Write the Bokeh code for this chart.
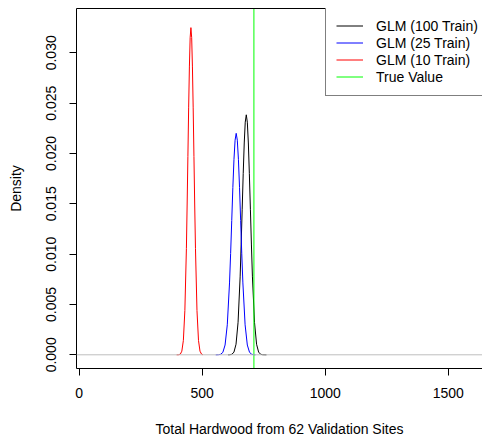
from bokeh.plotting import figure
from bokeh.models import Range1d, FixedTicker, PrintfTickFormatter, Span, Legend, LegendItem, LinearAxis
from bokeh.embed import file_html
from bokeh.resources import INLINE

# Density curves
red_x = [396, 404.8, 411.0, 417.1, 423.3, 429.4, 435.6, 438.6, 441.7, 444.8, 447.9, 450.9, 454.0,
         457.1, 460.1, 463.2, 466.3, 469.4, 472.5, 478.6, 484.8, 490.9, 497.1, 503]
red_y = [0.0, 0.00001, 0.00007, 0.00036, 0.00143, 0.0044, 0.01055, 0.01488, 0.0197, 0.02453, 0.02868, 0.0315, 0.0325,
         0.0315, 0.02868, 0.02453, 0.0197, 0.01488, 0.01055, 0.0044, 0.00143, 0.00036, 0.00007, 0.0]

blue_x = [555, 565.6, 574.7, 583.7, 592.8, 601.8, 610.9, 615.4, 619.9, 624.4, 629.0, 633.5, 638.0,
          642.5, 647.0, 651.6, 656.1, 660.6, 665.2, 674.2, 683.2, 692.3, 701.3, 710.4, 716]
blue_y = [0.0, 0.00001, 0.00005, 0.00024, 0.00097, 0.00298, 0.00714, 0.01007, 0.01334, 0.01661, 0.01942, 0.02132, 0.0220,
          0.02132, 0.01942, 0.01661, 0.01334, 0.01007, 0.00714, 0.00298, 0.00097, 0.00024, 0.00005, 0.00001, 0.0]

black_x = [605, 612.2, 620.5, 628.9, 637.3, 645.6, 654.0, 658.1, 662.3, 666.5, 670.7, 674.8, 679.0,
           683.2, 687.4, 691.5, 695.7, 699.9, 704.0, 712.4, 720.8, 729.1, 737.5, 745.8, 761]
black_y = [0.0, 0.00001, 0.00005, 0.00027, 0.00105, 0.00323, 0.00774, 0.01091, 0.01446, 0.01799, 0.02104, 0.02311, 0.02384,
           0.02311, 0.02104, 0.01799, 0.01446, 0.01091, 0.00774, 0.00323, 0.00105, 0.00027, 0.00005, 0.00001, 0.0]

true_value = 710

x_ticks = [0, 500, 1000, 1500]
y_ticks = [0.0, 0.005, 0.010, 0.015, 0.020, 0.025, 0.030]
labels = ["GLM (100 Train)", "GLM (25 Train)", "GLM (10 Train)", "True Value"]

FONT = "Liberation Sans"
X0, X1 = -11, 1639
Y0, Y1 = -0.00136, 0.0344

p = figure(width=482, height=442, output_backend="svg", toolbar_location=None,
           x_range=Range1d(X0, X1), y_range=Range1d(Y0, Y1),
           min_border_left=76, min_border_right=0, min_border_top=8, min_border_bottom=74)
p.outline_line_color = None
p.grid.visible = False
p.background_fill_color = "white"
p.border_fill_color = "white"

for ax in (p.xaxis[0], p.yaxis[0]):
    ax.axis_line_color = "black"
    ax.axis_line_width = 1
    ax.major_tick_line_color = "black"
    ax.major_tick_out = 7
    ax.major_tick_in = 0
    ax.minor_tick_line_color = None
    ax.major_label_text_font = FONT
    ax.major_label_text_font_size = "14px"
    ax.major_label_text_color = "black"
    ax.axis_label_text_font = FONT
    ax.axis_label_text_font_size = "14px"
    ax.axis_label_text_font_style = "normal"
    ax.axis_label_text_color = "black"

p.xaxis[0].ticker = FixedTicker(ticks=x_ticks)
p.yaxis[0].ticker = FixedTicker(ticks=y_ticks)
p.yaxis[0].formatter = PrintfTickFormatter(format="%.3f")
p.yaxis[0].major_label_orientation = "vertical"
p.xaxis[0].major_label_standoff = 12
p.yaxis[0].major_label_standoff = 13
p.xaxis[0].axis_label = "Total Hardwood from 62 Validation Sites"
p.yaxis[0].axis_label = "Density"
p.xaxis[0].axis_label_standoff = 20
p.yaxis[0].axis_label_standoff = 20

top = LinearAxis(ticker=FixedTicker(ticks=[]), major_label_text_font_size="0px",
                 major_tick_out=0, minor_tick_out=0, axis_line_color="black")
p.add_layout(top, "above")

p.add_layout(Span(location=0, dimension="width", line_color="#BEBEBE", line_width=1))

r_black = p.line(black_x, black_y, line_color="black", line_width=1)
r_blue = p.line(blue_x, blue_y, line_color="blue", line_width=1)
r_red = p.line(red_x, red_y, line_color="red", line_width=1)
r_green = p.line([true_value, true_value], [Y0, Y1], line_color="#00FF00", line_width=1)

legend = Legend(items=[LegendItem(label=labels[0], renderers=[r_black]),
                       LegendItem(label=labels[1], renderers=[r_blue]),
                       LegendItem(label=labels[2], renderers=[r_red]),
                       LegendItem(label=labels[3], renderers=[r_green])],
                location=(249, 272))
legend.label_text_font = FONT
legend.label_text_font_size = "14px"
legend.label_text_color = "black"
legend.glyph_width = 27
legend.glyph_height = 17
legend.label_height = 17
legend.label_standoff = 13
legend.spacing = 0
legend.padding = 10
legend.border_line_color = "black"
legend.border_line_width = 1
legend.background_fill_color = "white"
legend.background_fill_alpha = 1
p.add_layout(legend, "center")

open("out.html", "w").write(file_html(p, INLINE))
